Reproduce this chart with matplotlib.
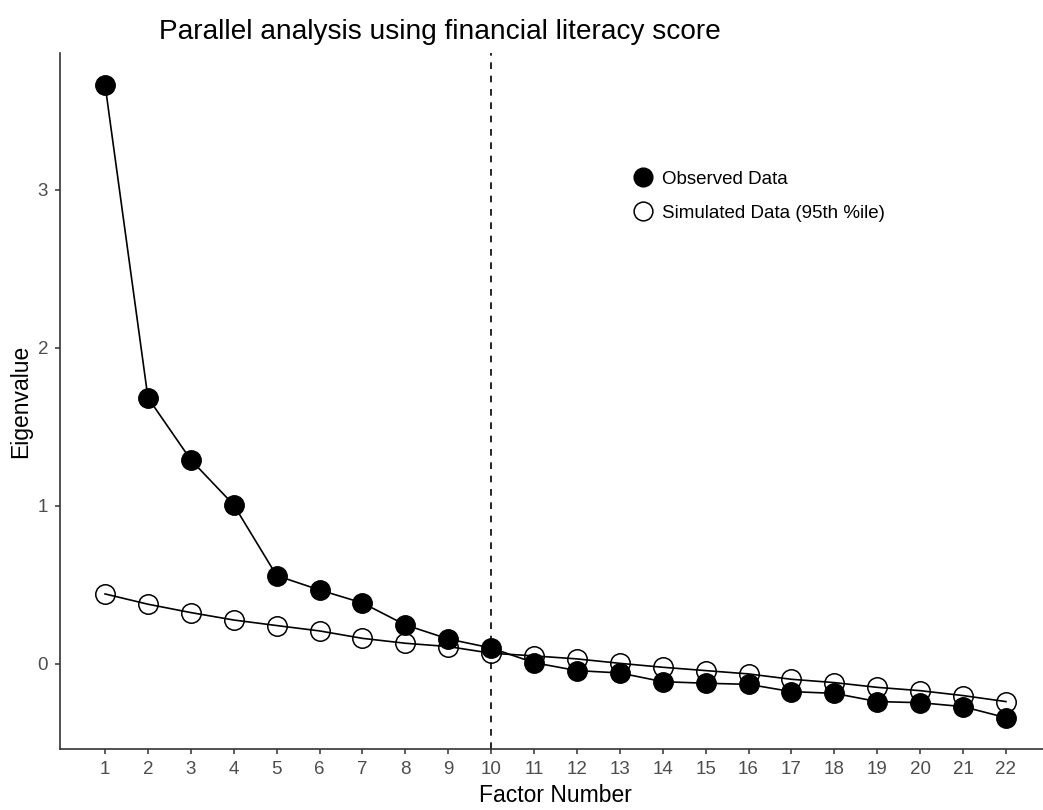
import numpy as np
import matplotlib
matplotlib.use("Agg")
import matplotlib.pyplot as plt
from matplotlib.lines import Line2D

plt.rcParams['font.family'] = ['Liberation Sans', 'DejaVu Sans']

# eigenvalues
factors = list(range(1, 23))
observed = [3.665, 1.684, 1.291, 1.006, 0.559, 0.468, 0.386, 0.247, 0.158, 0.101,
            0.008, -0.042, -0.057, -0.112, -0.122, -0.129, -0.175, -0.186, -0.238,
            -0.245, -0.270, -0.340]
simulated = [0.443, 0.378, 0.325, 0.278, 0.243, 0.209, 0.162, 0.131, 0.110, 0.068,
             0.051, 0.032, 0.004, -0.021, -0.042, -0.063, -0.097, -0.118, -0.148,
             -0.169, -0.200, -0.238]
cutoff = 10

fig = plt.figure(figsize=(10.43, 8.10), dpi=100)
# panel runs a little past the right edge of the image, as in the original
ax = fig.add_axes([60 / 1043, 61 / 810, (1051 - 60) / 1043, (749 - 53) / 810])

ax.plot(factors, simulated, color='black', lw=1.2, marker='o', ms=14,
        mfc='none', mec='black', mew=1.1, zorder=3)
ax.plot(factors, observed, color='black', lw=1.2, marker='o', ms=14,
        mfc='black', mec='black', zorder=4)
ax.axvline(cutoff, color='black', lw=1.2, ls=(0, (4, 4)), zorder=2)

ax.set_xlim(-0.05, 23.05)
ax.set_ylim(-0.538, 3.865)
ax.set_xticks(factors)
ax.set_yticks([0, 1, 2, 3])
ax.tick_params(colors='#333333', labelcolor='#4D4D4D', labelsize=13.5,
               length=3.6, width=1.1, pad=5)
for s in ['top', 'right']:
    ax.spines[s].set_visible(False)
for s in ['left', 'bottom']:
    ax.spines[s].set_color('#333333')
    ax.spines[s].set_linewidth(1.2)

ax.set_xlabel('Factor Number', fontsize=16.5, labelpad=4)
ax.set_ylabel('Eigenvalue', fontsize=16.5, labelpad=4)
fig.text(440 / 1043, 1 - 32 / 810, 'Parallel analysis using financial literacy score',
         fontsize=20.2, ha='center', va='center')

handles = [
    Line2D([], [], ls='none', marker='o', ms=13.5, mfc='black', mec='black'),
    Line2D([], [], ls='none', marker='o', ms=13.5, mfc='none', mec='black', mew=1.1),
]
ax.legend(handles, ['Observed Data', 'Simulated Data (95th %ile)'], frameon=False,
          loc='upper left', bbox_to_anchor=(624 / 1043, 1 - 161 / 810),
          bbox_transform=fig.transFigure, fontsize=13.5, handlelength=1.0,
          handletextpad=0.55, labelspacing=0.9, borderpad=0)

fig.savefig('out.png', dpi=100)
